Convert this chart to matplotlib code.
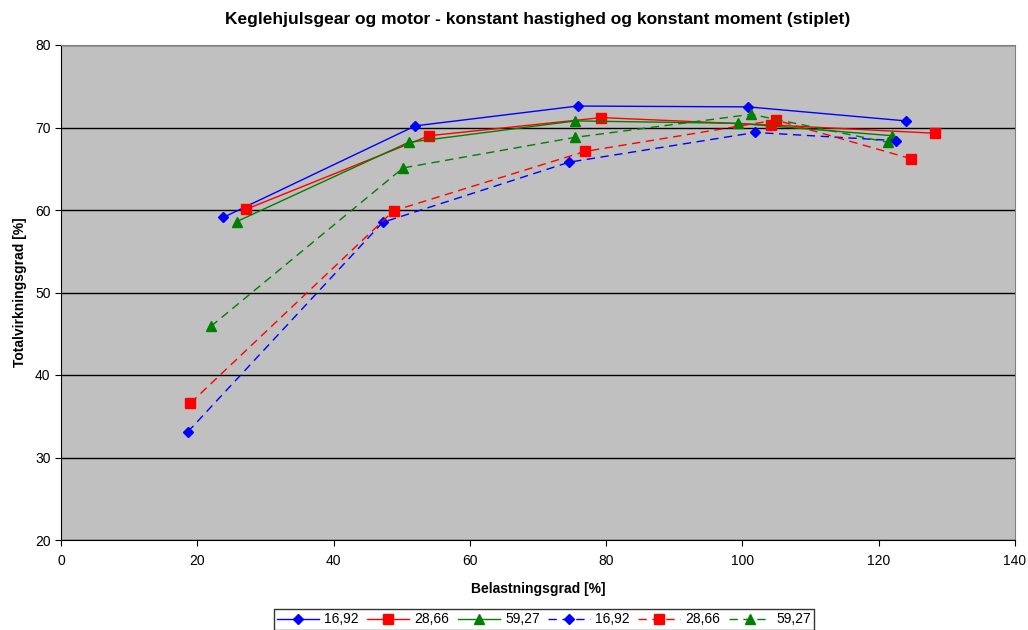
import matplotlib
matplotlib.use("Agg")
import matplotlib.pyplot as plt

plt.rcParams['font.family'] = ['Liberation Sans', 'DejaVu Sans']

# Constant speed (solid) series
blue_solid_x = [23.8, 52.0, 75.8, 100.8, 124.0]
blue_solid_y = [59.1, 70.2, 72.6, 72.5, 70.8]
red_solid_x = [27.2, 54.0, 79.3, 104.2, 128.3]
red_solid_y = [60.1, 69.0, 71.2, 70.3, 69.3]
green_solid_x = [25.8, 51.0, 75.5, 99.4, 122.0]
green_solid_y = [58.6, 68.2, 70.8, 70.5, 69.0]

# Constant moment (dashed) series
blue_dash_x = [18.6, 47.2, 74.6, 101.9, 122.6]
blue_dash_y = [33.1, 58.5, 65.8, 69.4, 68.4]
red_dash_x = [19.0, 48.8, 76.9, 104.9, 124.8]
red_dash_y = [36.6, 59.9, 67.1, 70.9, 66.2]
green_dash_x = [22.0, 50.2, 75.4, 101.3, 121.3]
green_dash_y = [45.9, 65.1, 68.8, 71.6, 68.2]

labels = ["16,92", "28,66", "59,27", "16,92", "28,66", "59,27"]

fig = plt.figure(figsize=(10.28, 6.30), dpi=100)
ax = fig.add_axes([61/1028, 90/630, (1015-61)/1028, (540-45)/630])
ax.set_facecolor('#C0C0C0')

dash = (0, (6, 4))
ax.plot(blue_solid_x, blue_solid_y, color='#0000FF', lw=1, marker='D', markersize=5, label=labels[0])
ax.plot(red_solid_x, red_solid_y, color='#FF0000', lw=1, marker='s', markersize=6.5, label=labels[1])
ax.plot(green_solid_x, green_solid_y, color='#008000', lw=1, marker='^', markersize=7, label=labels[2])
ax.plot(blue_dash_x, blue_dash_y, color='#0000FF', lw=1, ls=dash, marker='D', markersize=5, label=labels[3])
ax.plot(red_dash_x, red_dash_y, color='#FF0000', lw=1, ls=dash, marker='s', markersize=6.5, label=labels[4])
ax.plot(green_dash_x, green_dash_y, color='#008000', lw=1, ls=dash, marker='^', markersize=7, label=labels[5])

ax.set_xlim(0, 140)
ax.set_ylim(20, 80)
ax.set_xticks(range(0, 141, 20))
ax.set_yticks(range(20, 81, 10))
ax.yaxis.grid(True, color='black', lw=1)
ax.set_axisbelow(True)
for s in ['top', 'right']:
    ax.spines[s].set_color('#808080')
for s in ['left', 'bottom']:
    ax.spines[s].set_color('black')
ax.tick_params(axis='both', labelsize=10, direction='out', length=4, color='black')
ax.tick_params(axis='x', pad=6)

ax.set_title("Keglehjulsgear og motor - konstant hastighed og konstant moment (stiplet)",
             fontsize=12.5, fontweight='bold', pad=15)
ax.set_xlabel("Belastningsgrad [%]", fontsize=10, fontweight='bold', labelpad=10)
ax.set_ylabel("Totalvirkningsgrad [%]", fontsize=10, fontweight='bold', labelpad=5.5)

leg = fig.legend(loc='upper center', bbox_to_anchor=(544/1028, 1-609/630), ncol=6,
                 frameon=True, fancybox=False, edgecolor='black', fontsize=10,
                 handlelength=3.0, columnspacing=0.6, handletextpad=0.4,
                 borderpad=0.25, borderaxespad=0)
leg.get_frame().set_linewidth(1)

fig.savefig("out.png", dpi=100)
